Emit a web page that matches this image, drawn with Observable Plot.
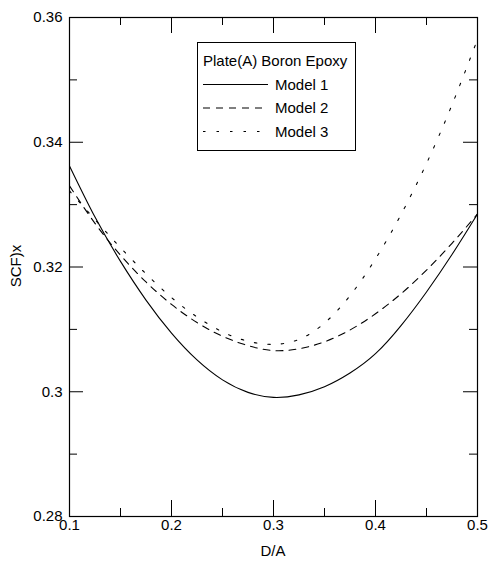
<!DOCTYPE html>
<html>
<head>
<meta charset="utf-8">
<script src="https://cdn.jsdelivr.net/npm/d3@7"></script>
<script src="https://cdn.jsdelivr.net/npm/@observablehq/plot@0.6"></script>
<style>
  html, body { margin: 0; padding: 0; background: white; }
  #wrap { position: relative; width: 492px; height: 561px; font-family: "Liberation Sans", Arial, sans-serif; }
  .lbl { position: absolute; font-size: 15px; color: black; white-space: nowrap; line-height: 1; }
</style>
</head>
<body>
<div id="wrap"></div>
<script>
// ---- data ----
const da = [0.100, 0.125, 0.150, 0.175, 0.200, 0.225, 0.250, 0.275, 0.300, 0.325, 0.350, 0.375, 0.400, 0.425, 0.450, 0.475, 0.500];
const model1 = [0.3362, 0.3280, 0.3209, 0.3147, 0.3094, 0.3051, 0.3019, 0.2999, 0.2991, 0.2995, 0.3008, 0.3030, 0.3061, 0.3106, 0.3160, 0.3220, 0.3285];
const model2 = [0.3330, 0.3270, 0.3219, 0.3176, 0.3140, 0.3111, 0.3089, 0.3074, 0.3066, 0.3069, 0.3080, 0.3099, 0.3125, 0.3157, 0.3195, 0.3238, 0.3285];
const model3 = [0.3322, 0.3276, 0.3231, 0.3189, 0.3151, 0.3120, 0.3096, 0.3081, 0.3076, 0.3084, 0.3110, 0.3154, 0.3213, 0.3284, 0.3366, 0.3460, 0.3565];
const seriesNames = ["Model 1", "Model 2", "Model 3"];
const legendTitle = "Plate(A) Boron Epoxy";
const xMajor = [0.1, 0.2, 0.3, 0.4, 0.5];
const xMinor = [0.15, 0.25, 0.35, 0.45];
const xTickLabels = ["0.1", "0.2", "0.3", "0.4", "0.5"];
const yMajor = [0.28, 0.30, 0.32, 0.34, 0.36];
const yMinor = [0.29, 0.31, 0.33, 0.35];
const yTickLabels = ["0.28", "0.3", "0.32", "0.34", "0.36"];
const xTitle = "D/A";
const yTitle = "SCF)x";

// ---- layout / styles ----
const W = 492, H = 561, ML = 69, MR = 15, MT = 17, MB = 45;
const FW = W - ML - MR, FH = H - MT - MB;   // frame size
const dashes = ["none", "7,6", "2.5,11"];
const series = [model1, model2, model3].map((vals, k) =>
  da.map((x, i) => ({ x, y: vals[i], model: seriesNames[k] })));

const marks = [];
series.forEach((s, k) => {
  const opts = { x: "x", y: "y", stroke: "black", strokeWidth: 1.1, curve: "natural" };
  if (k > 0) opts.strokeDasharray = dashes[k];
  marks.push(Plot.line(s, opts));
});
// inward ticks on all four sides (tick marks span the frame, trimmed by insets)
const tk = { stroke: "black", strokeWidth: 1 };
marks.push(Plot.tickX(xMajor, { x: d => d, insetTop: FH - 16, ...tk }));
marks.push(Plot.tickX(xMinor, { x: d => d, insetTop: FH - 8, ...tk }));
marks.push(Plot.tickX(xMajor, { x: d => d, insetBottom: FH - 16, ...tk }));
marks.push(Plot.tickX(xMinor, { x: d => d, insetBottom: FH - 8, ...tk }));
marks.push(Plot.tickY(yMajor, { y: d => d, insetRight: FW - 14, ...tk }));
marks.push(Plot.tickY(yMinor, { y: d => d, insetRight: FW - 8, ...tk }));
marks.push(Plot.tickY(yMajor, { y: d => d, insetLeft: FW - 14, ...tk }));
marks.push(Plot.tickY(yMinor, { y: d => d, insetLeft: FW - 8, ...tk }));
// tick labels
marks.push(Plot.axisX(xMajor, { anchor: "bottom", tickSize: 0, tickPadding: 3, tickFormat: d => xTickLabels[xMajor.indexOf(d)], label: null }));
marks.push(Plot.axisY(yMajor, { anchor: "left", tickSize: 0, tickPadding: 7, tickFormat: d => yTickLabels[yMajor.indexOf(d)], label: null }));
marks.push(Plot.frame({ stroke: "black", strokeWidth: 1.2 }));

const chart = Plot.plot({
  width: W,
  height: H,
  marginLeft: ML,
  marginRight: MR,
  marginTop: MT,
  marginBottom: MB,
  x: { domain: [0.1, 0.5] },
  y: { domain: [0.28, 0.36] },
  style: { fontFamily: '"Liberation Sans", Arial, sans-serif', fontSize: "15px", color: "black", background: "white", overflow: "visible" },
  marks
});

const wrap = document.getElementById("wrap");
wrap.appendChild(chart);

// axis titles
const xt = document.createElement("div");
xt.className = "lbl"; xt.textContent = xTitle;
xt.style.left = "273px"; xt.style.top = "543px"; xt.style.transform = "translateX(-50%)";
wrap.appendChild(xt);
const yt = document.createElement("div");
yt.className = "lbl"; yt.textContent = yTitle;
yt.style.left = "15px"; yt.style.top = "266px"; yt.style.transform = "translate(-50%,-50%) rotate(-90deg)";
wrap.appendChild(yt);

// legend box
const lg = d3.select(wrap).append("svg")
  .attr("width", 160).attr("height", 110)
  .style("position", "absolute").style("left", "197px").style("top", "42px")
  .style("font-family", '"Liberation Sans", Arial, sans-serif').style("font-size", "15px");
lg.append("rect").attr("x", 0.5).attr("y", 0.5).attr("width", 158).attr("height", 108)
  .attr("fill", "white").attr("stroke", "black").attr("stroke-width", 1);
lg.append("text").attr("x", 6).attr("y", 19).attr("dy", "0.35em").attr("fill", "black").text(legendTitle);
seriesNames.forEach((name, k) => {
  const cy = 42.5 + k * 23.5;
  const ln = lg.append("line").attr("x1", 6).attr("x2", 71).attr("y1", cy).attr("y2", cy)
    .attr("stroke", "black").attr("stroke-width", 1.1);
  if (k > 0) ln.attr("stroke-dasharray", dashes[k]);
  lg.append("text").attr("x", 78).attr("y", cy).attr("dy", "0.35em").attr("fill", "black").text(name);
});
</script>
</body>
</html>
